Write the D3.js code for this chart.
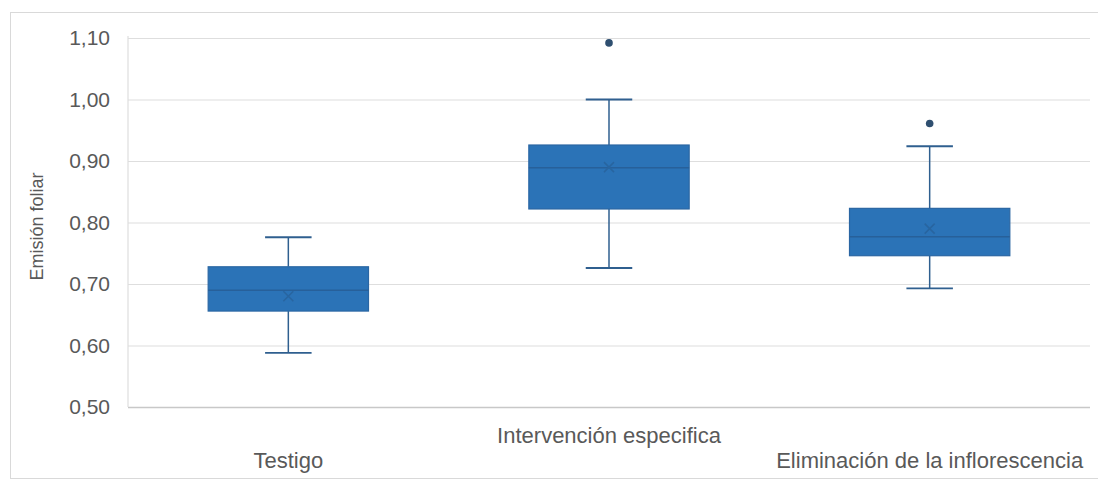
<!DOCTYPE html>
<html>
<head>
<meta charset="utf-8">
<script src="https://cdn.jsdelivr.net/npm/d3@7"></script>
<style>
  html, body { margin: 0; padding: 0; background: #fff; }
  svg { display: block; font-family: Arial, "Liberation Sans", sans-serif; }
</style>
</head>
<body>
<svg id="chart" width="1098" height="481"></svg>
<script>
// ---- Data ----
const categories = ["Testigo", "Intervención especifica", "Eliminación de la inflorescencia"];
const whiskerLow  = [0.588, 0.726, 0.693];
const q1          = [0.656, 0.822, 0.746];
const median      = [0.690, 0.889, 0.777];
const q3          = [0.728, 0.926, 0.823];
const whiskerHigh = [0.776, 1.000, 0.924];
const means       = [0.680, 0.890, 0.790];
const outliers    = [[], [1.092], [0.961]];
const yTicks      = [0.50, 0.60, 0.70, 0.80, 0.90, 1.00, 1.10];
const yTitle      = "Emisión foliar";

// ---- Layout ----
const W = 1098, H = 481;
const plot = { left: 128, right: 1090, top: 38, bottom: 407 };
const svg = d3.select("#chart");

svg.append("rect")
  .attr("x", 10.5).attr("y", 12.5)
  .attr("width", W + 10).attr("height", 466)
  .attr("fill", "#fff").attr("stroke", "#d9d9d9").attr("stroke-width", 1);

const y = d3.scaleLinear().domain([0.5, 1.1]).range([plot.bottom, plot.top]);
const x = d3.scaleBand().domain(categories).range([plot.left, plot.right]).padding(0);

const fmt = v => d3.format(".2f")(v).replace(".", ",");

// Y axis with gridlines
const yAxis = svg.append("g")
  .attr("transform", `translate(${plot.left},0)`)
  .call(d3.axisLeft(y).tickValues(yTicks).tickFormat(fmt)
        .tickSize(-(plot.right - plot.left)).tickPadding(18));
yAxis.select(".domain").remove();
yAxis.selectAll(".tick line")
  .attr("stroke", (d) => d === 0.5 ? "#c8c8c8" : "#dedede")
  .attr("stroke-width", (d) => d === 0.5 ? 1.5 : 1.2);
yAxis.selectAll(".tick text")
  .attr("fill", "#595959").attr("font-size", 21)
  .attr("font-family", "Arial, 'Liberation Sans', sans-serif");

// Vertical axis line
svg.append("line")
  .attr("x1", plot.left).attr("x2", plot.left)
  .attr("y1", plot.top - 2).attr("y2", plot.bottom)
  .attr("stroke", "#dedede").attr("stroke-width", 1.2);

// Y title
svg.append("text")
  .attr("transform", `translate(43,${(plot.top + plot.bottom) / 2 + 4}) rotate(-90)`)
  .attr("text-anchor", "middle")
  .attr("font-size", 18).attr("fill", "#595959")
  .text(yTitle);

// X axis labels (staggered)
const xAxis = svg.append("g")
  .attr("transform", `translate(0,${plot.bottom})`)
  .call(d3.axisBottom(x).tickSize(0).tickPadding(0));
xAxis.select(".domain").remove();
xAxis.selectAll(".tick text")
  .attr("font-size", 22).attr("fill", "#595959")
  .attr("font-family", "Arial, 'Liberation Sans', sans-serif")
  .attr("dy", null)
  .attr("y", (d, i) => i % 2 === 1 ? 36 : 61);

// Boxes
const boxColor = "#2b73b7";
const lineColor = "#2f5f8f";
const bw = x.bandwidth();
const boxW = bw * 0.5;
const capW = bw * 0.145;

const g = svg.append("g");
categories.forEach((c, i) => {
  const cx = x(c) + bw / 2;
  // whiskers
  g.append("line").attr("x1", cx).attr("x2", cx)
    .attr("y1", y(whiskerHigh[i])).attr("y2", y(q3[i]))
    .attr("stroke", lineColor).attr("stroke-width", 1.5);
  g.append("line").attr("x1", cx).attr("x2", cx)
    .attr("y1", y(q1[i])).attr("y2", y(whiskerLow[i]))
    .attr("stroke", lineColor).attr("stroke-width", 1.5);
  g.append("line").attr("x1", cx - capW / 2).attr("x2", cx + capW / 2)
    .attr("y1", y(whiskerHigh[i])).attr("y2", y(whiskerHigh[i]))
    .attr("stroke", lineColor).attr("stroke-width", 1.8);
  g.append("line").attr("x1", cx - capW / 2).attr("x2", cx + capW / 2)
    .attr("y1", y(whiskerLow[i])).attr("y2", y(whiskerLow[i]))
    .attr("stroke", lineColor).attr("stroke-width", 1.8);
  // box
  g.append("rect")
    .attr("x", cx - boxW / 2).attr("y", y(q3[i]))
    .attr("width", boxW).attr("height", y(q1[i]) - y(q3[i]))
    .attr("fill", boxColor).attr("stroke", "#2a66a3").attr("stroke-width", 1.2);
  // median
  g.append("line").attr("x1", cx - boxW / 2).attr("x2", cx + boxW / 2)
    .attr("y1", y(median[i])).attr("y2", y(median[i]))
    .attr("stroke", "#27609a").attr("stroke-width", 1.5);
  // mean X
  const my = y(means[i]), s = 5;
  g.append("path")
    .attr("d", `M${cx - s},${my - s}L${cx + s},${my + s}M${cx - s},${my + s}L${cx + s},${my - s}`)
    .attr("stroke", "#2865a0").attr("stroke-width", 1.5).attr("fill", "none");
  // outliers
  outliers[i].forEach(v => {
    g.append("circle").attr("cx", cx).attr("cy", y(v)).attr("r", 3.8)
      .attr("fill", "#2f4f70");
  });
});
</script>
</body>
</html>
